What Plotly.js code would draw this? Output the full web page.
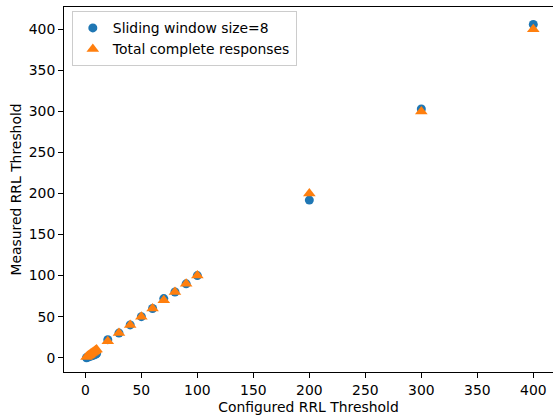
<!DOCTYPE html>
<html>
<head>
<meta charset="utf-8">
<script src="https://cdn.plot.ly/plotly-3.0.1.min.js"></script>
<style>html,body{margin:0;padding:0;background:#fff;}#chart{width:553px;height:417px;}</style>
</head>
<body>
<div id="chart"></div>
<script>
const configured = [1, 2, 3, 4, 5, 6, 7, 8, 9, 10, 20, 30, 40, 50, 60, 70, 80, 90, 100, 200, 300, 400];
const slidingWindow = [0, 1, 1, 2, 2, 3, 3, 4, 4, 5, 22, 30, 40, 50, 60, 72, 80, 90, 100, 192, 303, 406];
const totalComplete = [1, 2, 3, 4, 5, 6, 7, 8, 9, 10, 20, 30, 40, 50, 60, 70, 80, 90, 100, 200, 300, 400];
const seriesNames = ['Sliding window size=8', 'Total complete responses'];
const xTicks = [0, 50, 100, 150, 200, 250, 300, 350, 400];
const yTicks = [0, 50, 100, 150, 200, 250, 300, 350, 400];

const font = {family: 'DejaVu Sans', size: 13.9, color: '#000'};
const traces = [
  {x: configured, y: slidingWindow, name: seriesNames[0], mode: 'markers', type: 'scatter',
   marker: {symbol: 'circle', size: 9, color: '#1f77b4'}},
  {x: configured, y: totalComplete, name: seriesNames[1], mode: 'markers', type: 'scatter',
   marker: {symbol: 'triangle-up', size: 11, color: '#ff7f0e'}}
];
const axisBase = {showline: true, linecolor: '#000', linewidth: 1, mirror: true, ticks: 'outside',
  ticklen: 5, tickwidth: 1, tickcolor: '#000', showgrid: false, zeroline: false, tickfont: font};
const layout = {
  width: 553, height: 417,
  margin: {l: 64, r: 0, t: 7, b: 45},
  paper_bgcolor: '#fff', plot_bgcolor: '#fff',
  font: font,
  showlegend: true,
  legend: {x: 0.016, y: 0.988, xanchor: 'left', yanchor: 'top', bgcolor: 'rgba(255,255,255,0.8)',
    bordercolor: '#cccccc', borderwidth: 1, font: font, tracegroupgap: 0},
  xaxis: Object.assign({}, axisBase, {range: [-19.1, 417.6], tickvals: xTicks, ticktext: xTicks.map(String),
    title: {text: 'Configured RRL Threshold', font: font, standoff: 5}}),
  yaxis: Object.assign({}, axisBase, {range: [-17.4, 427.2], tickvals: yTicks, ticktext: yTicks.map(String),
    title: {text: 'Measured RRL Threshold', font: font, standoff: 3}})
};
Plotly.newPlot('chart', traces, layout, {displayModeBar: false, staticPlot: true});
</script>
</body>
</html>
